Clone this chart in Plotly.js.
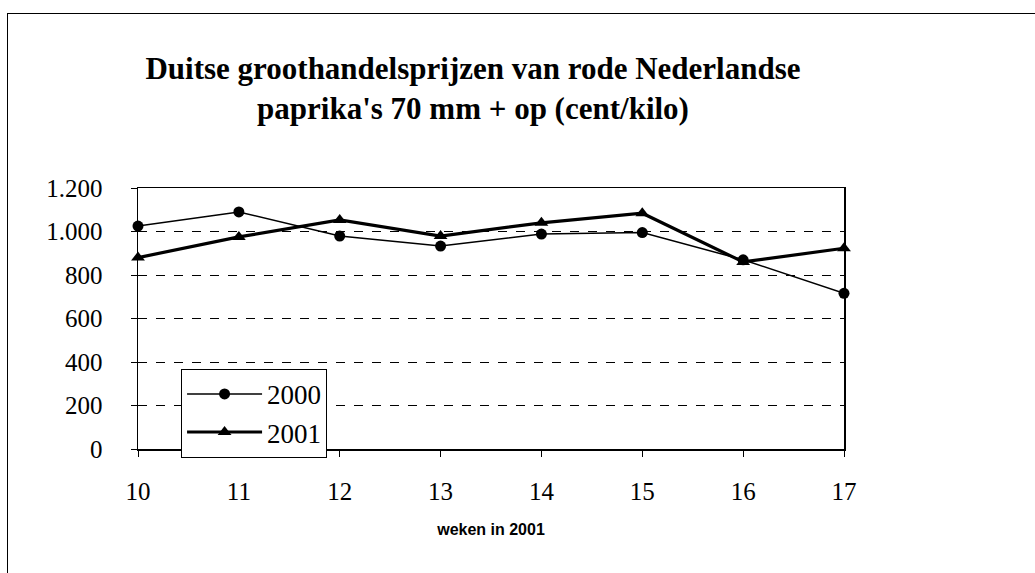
<!DOCTYPE html>
<html>
<head>
<meta charset="utf-8">
<script src="https://cdn.plot.ly/plotly-3.0.1.min.js"></script>
<style>
  html, body { margin: 0; padding: 0; background: #fff; overflow: hidden; }
  #wrap { position: relative; width: 1035px; height: 573px; }
  #chart { width: 1035px; height: 573px; }
  #frame { position: absolute; left: 7px; top: 13px; width: 1100px; height: 700px;
           border-left: 1px solid #000; border-top: 1px solid #000; pointer-events: none; }
</style>
</head>
<body>
<div id="wrap">
  <div id="chart"></div>
  <div id="frame"></div>
</div>
<script>
const weeks = [10, 11, 12, 13, 14, 15, 16, 17];
const prices2000 = [1025, 1090, 979, 933, 988, 995, 870, 716];
const prices2001 = [880, 975, 1053, 979, 1040, 1084, 860, 923];
const seriesNames = ['2000', '2001'];
const yTicks = [0, 200, 400, 600, 800, 1000, 1200];

const traces = [
  {
    x: weeks, y: prices2000, name: seriesNames[0], type: 'scatter', mode: 'lines+markers',
    line: { color: '#000', width: 1.5 },
    marker: { symbol: 'circle', size: 11, color: '#000' },
    cliponaxis: false
  },
  {
    x: weeks, y: prices2001, name: seriesNames[1], type: 'scatter', mode: 'lines+markers',
    line: { color: '#000', width: 3.2 },
    marker: { symbol: 'triangle-up', size: 12, color: '#000' },
    cliponaxis: false
  }
];

const layout = {
  width: 1035, height: 573,
  font: { family: 'Liberation Serif', size: 25, color: '#000' },
  paper_bgcolor: '#fff', plot_bgcolor: '#fff',
  separators: ',.',
  margin: { l: 138, r: 191, t: 188, b: 124, pad: 0 },
  showlegend: true,
  title: {
    text: '<b>Duitse groothandelsprijzen van rode Nederlandse<br>paprika\'s 70 mm + op (cent/kilo)</b>',
    font: { family: 'Liberation Serif', size: 31, color: '#000' },
    xref: 'container', yref: 'container',
    x: 0.457, xanchor: 'center', y: 0.863, yanchor: 'middle'
  },
  xaxis: {
    range: [10, 17], tickvals: weeks, ticktext: weeks.map(String),
    showgrid: false, zeroline: false,
    showline: true, linecolor: '#000', linewidth: 1.5, mirror: true,
    ticks: 'outside', ticklen: 6, tickcolor: '#000', tickwidth: 1,
    ticklabelstandoff: 13,
    tickfont: { size: 25 },
    title: { text: '<b>weken in 2001</b>', font: { family: 'Liberation Sans', size: 16, color: '#000' }, standoff: 20 }
  },
  yaxis: {
    range: [0, 1200], tickvals: yTicks, separatethousands: true, tickformat: ',d',
    showgrid: true, gridcolor: '#000', gridwidth: 1, griddash: 'dash',
    zeroline: false,
    showline: true, linecolor: '#000', linewidth: 1.5, mirror: true,
    ticks: 'outside', ticklen: 6, tickcolor: '#000', tickwidth: 1,
    ticklabelstandoff: 23,
    tickfont: { size: 25 }
  },
  legend: {
    x: 0.061, y: 0.307, xanchor: 'left', yanchor: 'top',
    bgcolor: '#fff', bordercolor: '#000', borderwidth: 1,
    font: { size: 27 },
    tracegroupgap: 0, itemwidth: 75
  }
};

Plotly.newPlot('chart', traces, layout, { displayModeBar: false, staticPlot: true });
</script>
</body>
</html>
